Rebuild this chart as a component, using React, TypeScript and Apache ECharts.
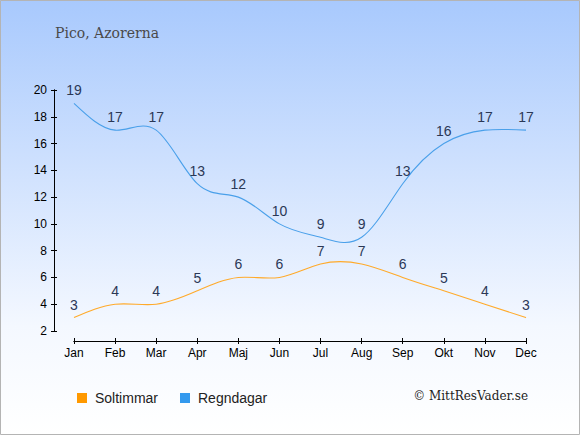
import React, { useEffect, useRef } from "react";
import * as echarts from "echarts";

const months = ["Jan", "Feb", "Mar", "Apr", "Maj", "Jun", "Jul", "Aug", "Sep", "Okt", "Nov", "Dec"];
const sunHours = [3, 4, 4, 5, 6, 6, 7, 7, 6, 5, 4, 3];
const rainDays = [19, 17, 17, 13, 12, 10, 9, 9, 13, 16, 17, 17];
const titleText = "Pico, Azorerna";
const sunName = "Soltimmar";
const rainName = "Regndagar";
const copyright = "© MittResVader.se";

// Natural cubic spline through pixel points, as SVG path data
function splinePath(pts: number[][]): string {
  const n = pts.length;
  if (n < 2) return "";
  const h = (pts[n - 1][0] - pts[0][0]) / (n - 1);
  const y = pts.map((p) => p[1]);
  const M = new Array(n).fill(0);
  // tridiagonal solve for interior second derivatives
  const m = n - 2;
  if (m > 0) {
    const a = new Array(m).fill(1);
    const b = new Array(m).fill(4);
    const c = new Array(m).fill(1);
    const d = new Array(m);
    for (let i = 0; i < m; i++) {
      d[i] = (6 * (y[i + 2] - 2 * y[i + 1] + y[i])) / (h * h);
    }
    for (let i = 1; i < m; i++) {
      const w = a[i] / b[i - 1];
      b[i] -= w * c[i - 1];
      d[i] -= w * d[i - 1];
    }
    const sol = new Array(m);
    sol[m - 1] = d[m - 1] / b[m - 1];
    for (let i = m - 2; i >= 0; i--) sol[i] = (d[i] - c[i] * sol[i + 1]) / b[i];
    for (let i = 0; i < m; i++) M[i + 1] = sol[i];
  }
  let path = `M${pts[0][0]},${pts[0][1]}`;
  for (let i = 0; i < n - 1; i++) {
    const x0 = pts[i][0];
    const x1 = pts[i + 1][0];
    const hh = x1 - x0;
    const s = (y[i + 1] - y[i]) / hh;
    const d0 = s - (hh * (2 * M[i] + M[i + 1])) / 6;
    const d1 = s + (hh * (M[i] + 2 * M[i + 1])) / 6;
    const c1x = x0 + hh / 3;
    const c1y = y[i] + (d0 * hh) / 3;
    const c2x = x1 - hh / 3;
    const c2y = y[i + 1] - (d1 * hh) / 3;
    path += ` C${c1x},${c1y} ${c2x},${c2y} ${x1},${y[i + 1]}`;
  }
  return path;
}

function curveSeries(values: number[], color: string) {
  return {
    type: "custom",
    silent: true,
    xAxisIndex: 0,
    yAxisIndex: 0,
    data: [[0, values[0]]],
    z: 3,
    renderItem: (_params: any, api: any) => {
      const pts = values.map((v, i) => api.coord([i, v]));
      return {
        type: "path",
        shape: { pathData: splinePath(pts) },
        style: { fill: "none", stroke: color, lineWidth: 1.1 },
      };
    },
  };
}

export default function App() {
  const ref = useRef<HTMLDivElement>(null);
  useEffect(() => {
    document.body.style.margin = "0";
    const chart = echarts.init(ref.current!, null, { renderer: "svg" });
    const labelStyle = {
      show: true,
      position: "top" as const,
      distance: 6,
      color: "#2b3856",
      fontSize: 14,
      fontFamily: "Liberation Sans, Arial, sans-serif",
    };
    const yBase = {
      type: "value" as const,
      min: 2,
      max: 20,
      interval: 2,
      position: "left" as const,
      offset: 20,
      splitLine: { show: false },
      axisLine: { show: true, lineStyle: { color: "#000", width: 1 } },
    };
    const xBase = {
      type: "category" as const,
      data: months,
      boundaryGap: false,
      position: "bottom" as const,
      offset: 10,
      axisLine: { show: true, lineStyle: { color: "#000", width: 1 } },
    };
    chart.setOption({
      animation: false,
      backgroundColor: new echarts.graphic.LinearGradient(0, 0, 0, 1, [
        { offset: 0, color: "#a8c9fd" },
        { offset: 0.75, color: "#f4f8ff" },
        { offset: 1, color: "#ffffff" },
      ]),
      grid: { left: 74, right: 54, top: 90, bottom: 104 },
      title: {
        text: titleText,
        left: 50,
        top: 21,
        textStyle: {
          fontFamily: "DejaVu Serif, serif",
          fontSize: 14,
          fontWeight: "normal",
          color: "#4a4a4a",
        },
      },
      legend: {
        left: 77,
        top: 391,
        padding: 0,
        icon: "rect",
        itemWidth: 10,
        itemHeight: 10,
        itemGap: 22,
        textStyle: {
          fontFamily: "Liberation Sans, Arial, sans-serif",
          fontSize: 14,
          color: "#222",
          padding: [0, 0, 0, 3],
        },
        data: [
          { name: sunName, itemStyle: { color: "#ff9900" } },
          { name: rainName, itemStyle: { color: "#3399ee" } },
        ],
      },
      xAxis: [
        {
          ...xBase,
          axisTick: { show: true, length: 3, lineStyle: { color: "#000" } },
          axisLabel: {
            margin: 6,
            color: "#000",
            fontSize: 12,
            fontFamily: "Liberation Sans, Arial, sans-serif",
          },
        },
        {
          ...xBase,
          axisTick: { show: true, inside: true, length: 3, lineStyle: { color: "#000" } },
          axisLabel: { show: false },
        },
      ],
      yAxis: [
        {
          ...yBase,
          axisTick: { show: true, length: 3, lineStyle: { color: "#000" } },
          axisLabel: {
            margin: 7,
            color: "#000",
            fontSize: 12,
            fontFamily: "Liberation Sans, Arial, sans-serif",
          },
        },
        {
          ...yBase,
          axisTick: { show: true, inside: true, length: 3, lineStyle: { color: "#000" } },
          axisLabel: { show: false },
        },
      ],
      series: [
        {
          name: sunName,
          type: "line",
          data: sunHours,
          symbol: "circle",
          symbolSize: 0,
          showSymbol: true,
          lineStyle: { color: "#ffaa2a", width: 1, opacity: 0 },
          itemStyle: { color: "#ff9900" },
          label: labelStyle,
        },
        {
          name: rainName,
          type: "line",
          data: rainDays,
          symbol: "circle",
          symbolSize: 0,
          showSymbol: true,
          lineStyle: { color: "#4aa0ea", width: 1, opacity: 0 },
          itemStyle: { color: "#3399ee" },
          label: labelStyle,
        },
        curveSeries(sunHours, "#ffaa2a"),
        curveSeries(rainDays, "#4aa0ea"),
      ],
      graphic: [
        {
          type: "text",
          right: 52,
          top: 390,
          style: {
            text: copyright,
            fontFamily: "DejaVu Serif, serif",
            fontSize: 12,
            fill: "#222",
          },
        },
        {
          type: "rect",
          shape: { x: 0.5, y: 0.5, width: 579, height: 434 },
          style: { fill: "none", stroke: "#b4b4b4", lineWidth: 1 },
          silent: true,
        },
      ],
    });
    return () => chart.dispose();
  }, []);
  return <div ref={ref} style={{ width: 580, height: 435 }} />;
}
